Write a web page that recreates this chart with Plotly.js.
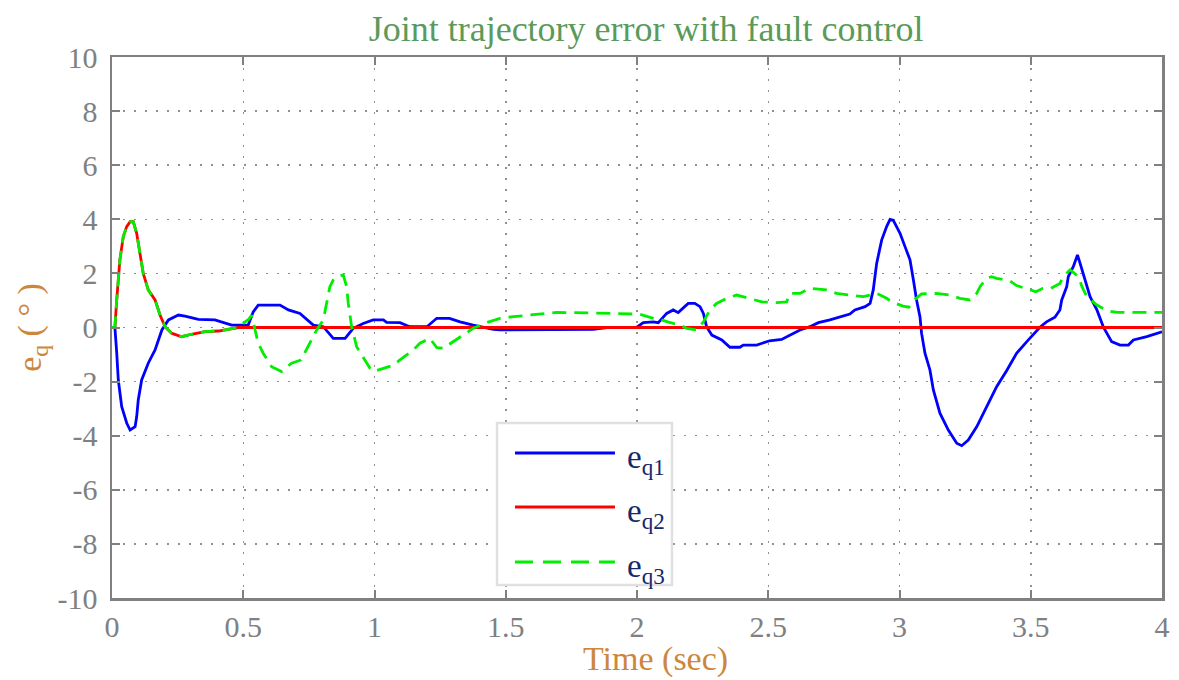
<!DOCTYPE html>
<html>
<head>
<meta charset="utf-8">
<script src="https://cdn.plot.ly/plotly-3.0.1.min.js"></script>
<style>html,body{margin:0;padding:0;background:#fff;}#chart{width:1179px;height:680px;}</style>
</head>
<body>
<div id="chart"></div>
<script>
// Time (sec) and joint errors (deg)
const t1 = [0, 0.011, 0.018, 0.024, 0.037, 0.056, 0.069, 0.088, 0.094, 0.10,
  0.113, 0.138, 0.164, 0.19, 0.215, 0.253, 0.278, 0.329, 0.392, 0.456,
  0.507, 0.519, 0.538, 0.557, 0.64, 0.672, 0.716, 0.767, 0.805, 0.843,
  0.888, 0.919, 0.957, 0.995, 1.034, 1.046, 1.097, 1.134, 1.2, 1.237,
  1.286, 1.326, 1.376, 1.453, 1.478, 1.834, 1.884, 1.998, 2.024, 2.062,
  2.081, 2.113, 2.138, 2.157, 2.195, 2.22, 2.24, 2.253, 2.265, 2.285,
  2.323, 2.354, 2.392, 2.405, 2.456, 2.505, 2.551, 2.583, 2.621, 2.659,
  2.691, 2.735, 2.773, 2.811, 2.83, 2.869, 2.888, 2.9, 2.913, 2.932,
  2.951, 2.964, 2.976, 3.002, 3.021, 3.04, 3.053, 3.065, 3.078, 3.084,
  3.097, 3.116, 3.129, 3.154, 3.186, 3.218, 3.237, 3.262, 3.294, 3.332,
  3.37, 3.408, 3.446, 3.491, 3.535, 3.56, 3.592, 3.611, 3.618, 3.637,
  3.643, 3.662, 3.678, 3.688, 3.7, 3.714, 3.726, 3.752, 3.777, 3.808,
  3.84, 3.872, 3.891, 3.942, 4.0];
const eq1 = [0, 0, -0.94, -1.94, -2.93, -3.53, -3.79, -3.67, -3.3, -2.68,
  -1.94, -1.32, -0.83, -0.09, 0.28, 0.46, 0.42, 0.30, 0.28, 0.09,
  0.09, 0.09, 0.58, 0.83, 0.83, 0.65, 0.52, 0.09, 0.03, -0.4,
  -0.4, -0.03, 0.15, 0.28, 0.28, 0.19, 0.18, 0.03, 0.03, 0.34,
  0.34, 0.21, 0.09, -0.07, -0.09, -0.07, 0, 0, 0.18, 0.21,
  0.18, 0.52, 0.65, 0.55, 0.89, 0.89, 0.77, 0.52, 0.03, -0.28,
  -0.46, -0.73, -0.73, -0.65, -0.65, -0.49, -0.44, -0.28, -0.09, 0.03,
  0.18, 0.28, 0.38, 0.5, 0.65, 0.77, 0.89, 1.39, 2.37, 3.23,
  3.73, 4.0, 3.97, 3.48, 2.99, 2.5, 1.76, 1.02, 0.4, -0.21,
  -0.95, -1.57, -2.31, -3.17, -3.79, -4.28, -4.37, -4.16, -3.67, -2.93,
  -2.19, -1.6, -0.95, -0.46, 0.01, 0.21, 0.38, 0.65, 1.02, 1.51,
  1.88, 2.25, 2.68, 2.37, 2.0, 1.57, 1.14, 0.65, 0.01, -0.52,
  -0.65, -0.65, -0.46, -0.34, -0.16];

const t2 = [0, 0.011, 0.018, 0.024, 0.03, 0.043, 0.056, 0.069, 0.081, 0.094,
  0.107, 0.119, 0.138, 0.164, 0.183, 0.202, 0.227, 0.265, 0.303, 0.354,
  0.405, 0.456, 0.481, 4.0];
const eq2 = [0, 0, 1.02, 1.88, 2.5, 3.36, 3.73, 3.91, 3.91, 3.48,
  2.74, 2.0, 1.39, 1.02, 0.46, 0.03, -0.21, -0.34, -0.25, -0.15,
  -0.13, -0.03, 0, 0];

const t3 = [0, 0.011, 0.018, 0.024, 0.03, 0.043, 0.056, 0.069, 0.081, 0.094,
  0.107, 0.119, 0.138, 0.164, 0.183, 0.202, 0.227, 0.265, 0.303, 0.354,
  0.405, 0.456, 0.481, 0.507, 0.52, 0.532, 0.545, 0.557, 0.576, 0.608,
  0.646, 0.684, 0.72, 0.754, 0.78, 0.805, 0.818, 0.83, 0.843, 0.856,
  0.881, 0.894, 0.9, 0.913, 0.932, 0.957, 0.983, 0.995, 1.034, 1.072,
  1.097, 1.148, 1.173, 1.211, 1.237, 1.262, 1.288, 1.326, 1.376, 1.427,
  1.478, 1.529, 1.694, 1.91, 2.01, 2.062, 2.088, 2.12, 2.163, 2.189,
  2.227, 2.253, 2.278, 2.303, 2.342, 2.38, 2.43, 2.475, 2.532, 2.57,
  2.583, 2.621, 2.659, 2.722, 2.76, 2.811, 2.862, 2.913, 2.951, 2.97,
  3.013, 3.036, 3.057, 3.084, 3.14, 3.192, 3.23, 3.268, 3.294, 3.307,
  3.332, 3.351, 3.37, 3.421, 3.446, 3.478, 3.52, 3.546, 3.577, 3.611,
  3.624, 3.65, 3.682, 3.695, 3.714, 3.752, 3.79, 3.83, 4.0];
const eq3 = [0, 0, 1.02, 1.88, 2.5, 3.36, 3.73, 3.91, 3.91, 3.48,
  2.74, 2.0, 1.39, 1.02, 0.46, 0.03, -0.21, -0.34, -0.25, -0.15,
  -0.13, -0.03, 0, 0.21, 0.3, 0.45, -0.09, -0.58, -0.95, -1.45,
  -1.63, -1.32, -1.2, -0.58, -0.09, 0.28, 0.89, 1.51, 1.76, 1.88,
  1.94, 1.51, 0.89, 0.03, -0.71, -1.08, -1.51, -1.63, -1.51, -1.39,
  -1.2, -0.83, -0.58, -0.4, -0.74, -0.77, -0.6, -0.34, -0.03, 0.18,
  0.34, 0.4, 0.56, 0.52, 0.49, 0.34, 0.3, 0.2, 0.09, -0.03,
  -0.09, 0.21, 0.65, 0.89, 1.08, 1.2, 1.08, 0.95, 0.92, 0.95,
  1.26, 1.26, 1.45, 1.39, 1.26, 1.2, 1.14, 1.26, 1.08, 0.95,
  0.79, 0.75, 1.02, 1.24, 1.26, 1.2, 1.08, 1.02, 1.26, 1.51,
  1.82, 1.88, 1.82, 1.72, 1.55, 1.45, 1.32, 1.45, 1.45, 1.63,
  1.88, 2.13, 1.88, 1.51, 1.14, 0.83, 0.62, 0.56, 0.56];

const seriesNames = ['e<sub>q1</sub>', 'e<sub>q2</sub>', 'e<sub>q3</sub>'];
const seriesColors = ['#0000ff', '#ff0000', '#00ee00'];
const seriesDash = ['solid', 'solid', '14px,8px'];
const xTickVals = [0, 0.5, 1, 1.5, 2, 2.5, 3, 3.5, 4];
const xTickText = ['0', '0.5', '1', '1.5', '2', '2.5', '3', '3.5', '4'];
const yTickVals = [-10, -8, -6, -4, -2, 0, 2, 4, 6, 8, 10];
const yTickText = ['-10', '-8', '-6', '-4', '-2', '0', '2', '4', '6', '8', '10'];
const xTitle = 'Time (sec)';

const FONT = 'Liberation Serif, DejaVu Serif, serif';
const GRAY = '#808080';

const series = [[t1, eq1], [t2, eq2], [t3, eq3]];
const traces = series.map((s, i) => ({
  x: s[0], y: s[1], name: seriesNames[i], mode: 'lines',
  line: {color: seriesColors[i], width: 2.8, dash: seriesDash[i]}
}));

const axisCommon = {
  showline: true, linecolor: GRAY, linewidth: 2.5, mirror: 'ticks',
  ticks: 'inside', ticklen: 8, tickwidth: 2, tickcolor: GRAY,
  showgrid: true, gridcolor: '#909090', gridwidth: 1.5, griddash: '2px,9px',
  zeroline: false, tickfont: {family: FONT, size: 30, color: GRAY}
};

// Custom legend (box, sample lines and labels) in paper coordinates
const legBox = {x0: 0.3667, x1: 0.5333, y0: 0.024, y1: 0.3235};
const legLineX = [0.3838, 0.479];
const legRowY = [0.268, 0.1682, 0.0665];
const legTextX = 0.489;

const shapes = [{type: 'rect', xref: 'paper', yref: 'paper', x0: legBox.x0, x1: legBox.x1, y0: legBox.y0, y1: legBox.y1,
  line: {color: '#e0e0e0', width: 2.5}, fillcolor: '#ffffff', layer: 'above'}];
const annotations = [];
legRowY.forEach((yy, i) => {
  shapes.push({type: 'line', xref: 'paper', yref: 'paper', x0: legLineX[0], x1: legLineX[1], y0: yy, y1: yy,
    line: {color: seriesColors[i], width: 2.8, dash: i === 2 ? '18px,10px' : 'solid'}, layer: 'above'});
  annotations.push({xref: 'paper', yref: 'paper', x: legTextX, y: yy - 0.012, xanchor: 'left', yanchor: 'middle',
    text: seriesNames[i], showarrow: false, font: {family: FONT, size: 33, color: '#13296b'}});
});
// x-axis title (slightly right of centre, as in the reference)
annotations.push({xref: 'paper', yref: 'paper', x: 0.518, y: -0.112, xanchor: 'center', yanchor: 'middle',
  text: xTitle, showarrow: false, font: {family: FONT, size: 34, color: '#cd873c'}});

const layout = {
  width: 1179, height: 680,
  margin: {l: 112, r: 17, t: 57, b: 82},
  paper_bgcolor: '#ffffff', plot_bgcolor: '#ffffff',
  font: {family: FONT},
  title: {text: 'Joint trajectory error with fault control', x: 0.548, xanchor: 'center', y: 0.958, yanchor: 'middle',
          font: {family: FONT, size: 36, color: '#5a9a5a'}},
  xaxis: Object.assign({}, axisCommon, {
    range: [0, 4], tickvals: xTickVals, ticktext: xTickText
  }),
  yaxis: Object.assign({}, axisCommon, {
    range: [-10, 10], tickvals: yTickVals, ticktext: yTickText, ticklabelstandoff: 6,
    title: {text: 'e<sub>q</sub> ( ° )', font: {family: FONT, size: 34, color: '#cd873c'}, standoff: 6}
  }),
  showlegend: false,
  shapes: shapes,
  annotations: annotations
};

Plotly.newPlot('chart', traces, layout, {displayModeBar: false, staticPlot: true});
</script>
</body>
</html>
